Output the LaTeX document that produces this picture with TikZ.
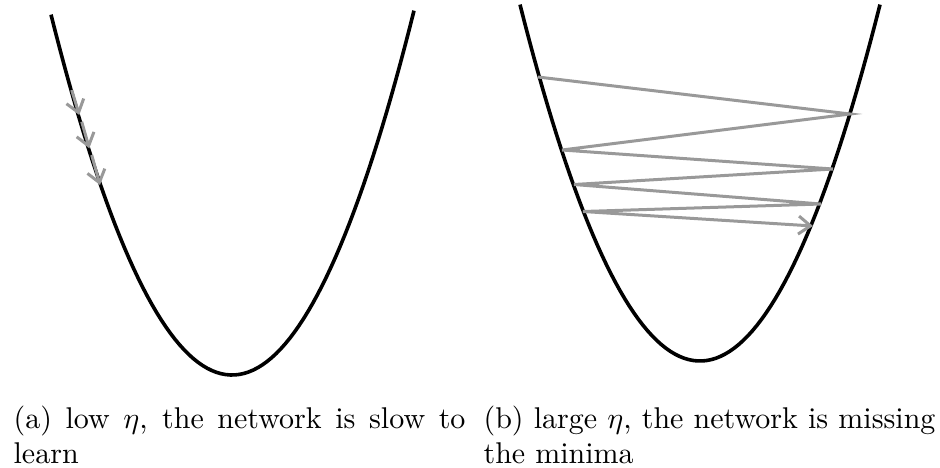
\documentclass[tikz,border=0pt]{standalone}
\usepackage{amsmath}
\usepackage{tikz}
\usetikzlibrary{arrows.meta}
\begin{document}
\begin{tikzpicture}[
    x=0.3333pt, y=-0.3333pt,
    loss/.style={line width=1.2pt},
    descent/.style={draw=black!40, line width=1pt},
    arrow/.style={-{Straight Barb[length=4pt, width=6pt]}},
    caption/.style={anchor=base west, inner sep=0pt, text width=150.6pt, align=justify, font=\fontsize{10}{11.7}\selectfont}
]
\useasboundingbox (0,0) rectangle (940,467);
% loss curves
\draw[loss] plot[domain=-181:182, samples=80] ({232+\x}, {375-1.1*(\x/10)*(\x/10)});
\draw[loss] plot[domain=-180:180, samples=80] ({700+\x}, {361-1.1*(\x/10)*(\x/10)});

% small steps
\coordinate (a1) at (71.7,90);
\coordinate (a2) at (79.3,115);
\coordinate (a3) at (81.7,121.7);
\coordinate (a4) at (89.3,148.3);
\coordinate (a5) at (91.7,155);
\coordinate (a6) at (100,185);
\foreach \i/\j in {a1/a2, a3/a4, a5/a6}
  \draw[descent, arrow] (\i) -- (\j);

% large steps
\coordinate (b1) at (538,77);
\coordinate (b2) at (850,114);
\coordinate (b3) at (562,150);
\coordinate (b4) at (833,169);
\coordinate (b5) at (574,184.5);
\coordinate (b6) at (821,204);
\coordinate (b7) at (583,211.5);
\coordinate (b8) at (813,226);
\draw[descent, arrow] (b1) -- (b2) -- (b3) -- (b4) -- (b5) -- (b6) -- (b7) -- (b8);

\node[caption] (capa) at (13,428.5) {(a) low $\eta$, the network is slow to learn};
\node[caption] (capb) at (483,428.5) {(b) large $\eta$, the network is missing the minima};
\end{tikzpicture}
\end{document}
